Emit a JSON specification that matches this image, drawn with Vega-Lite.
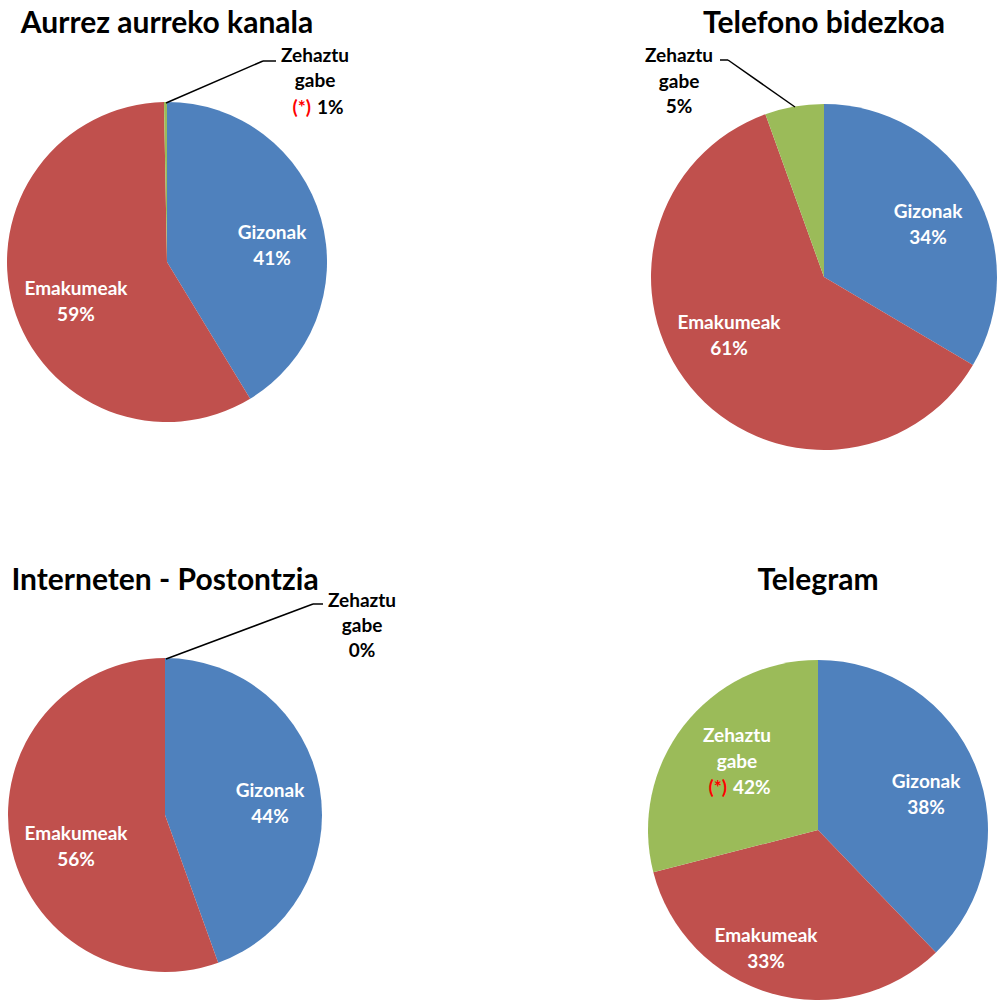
{
  "$schema": "https://vega.github.io/schema/vega-lite/v6.json",
  "padding": {"left": 0, "top": 9, "right": 0, "bottom": 0},
  "background": "white",
  "config": {
    "view": {"stroke": null},
    "text": {"font": "Lato", "fontWeight": "bold", "fontSize": 19, "lineBreak": "\n"},
    "title": {"font": "Lato", "fontWeight": "bold", "fontSize": 30, "color": "black", "anchor": "middle", "frame": "group", "baseline": "bottom"}
  },
  "columns": 2,
  "spacing": {"row": 206, "column": 317},
  "bounds": "flush",
  "align": "each",
  "resolve": {"scale": {"x": "independent", "y": "independent", "theta": "independent"}},
  "concat": [
    {
      "width": 334, "height": 324,
      "title": {"text": "Aurrez aurreko kanala", "offset": -22, "baseline": "bottom"},
      "data": {"values": [
        {"cat": "Gizonak", "n": 1, "v": 41.3, "lab": "Gizonak\n41%"},
        {"cat": "Emakumeak", "n": 2, "v": 58.4, "lab": "Emakumeak\n59%"},
        {"cat": "Zehaztu gabe", "n": 3, "v": 0.3, "lab": "Zehaztu\ngabe", "pct": "1%", "star": "(*)"}
      ]},
      "layer": [
        {"mark": {"type": "arc", "outerRadius": 160},
         "encoding": {
           "theta": {"field": "v", "type": "quantitative", "stack": true},
           "color": {"field": "cat", "type": "nominal", "scale": {"domain": ["Gizonak", "Emakumeak", "Zehaztu gabe"], "range": ["#4F81BD", "#C0504D", "#9BBB59"]}, "legend": null},
           "order": {"field": "n", "type": "quantitative"}}},
        {"mark": {"type": "text", "radius": 107, "dx": 2, "dy": 0, "color": "white", "lineHeight": 26},
         "encoding": {
           "theta": {"field": "v", "type": "quantitative", "stack": true},
           "order": {"field": "n", "type": "quantitative"},
           "text": {"condition": {"test": "datum.n === 1", "field": "lab"}, "value": ""}}},
        {"mark": {"type": "text", "radius": 99, "dx": 4, "dy": -0.6, "color": "white", "lineHeight": 26},
         "encoding": {
           "theta": {"field": "v", "type": "quantitative", "stack": true},
           "order": {"field": "n", "type": "quantitative"},
           "text": {"condition": {"test": "datum.n === 2", "field": "lab"}, "value": ""}}},
        {"data": {"values": [{}]},
         "mark": {"type": "rule", "color": "black", "strokeWidth": 1.5},
         "encoding": {
           "x": {"datum": -1, "type": "quantitative", "scale": {"domain": [-167, 167], "nice": false}, "axis": null},
           "y": {"datum": 159, "type": "quantitative", "scale": {"domain": [-162, 162], "nice": false}, "axis": null},
           "x2": {"datum": 96}, "y2": {"datum": 201}}},
        {"data": {"values": [{}]},
         "mark": {"type": "rule", "color": "black", "strokeWidth": 1.5},
         "encoding": {
           "x": {"datum": 96, "type": "quantitative", "scale": {"domain": [-167, 167], "nice": false}, "axis": null},
           "y": {"datum": 201, "type": "quantitative", "scale": {"domain": [-162, 162], "nice": false}, "axis": null},
           "x2": {"datum": 109}, "y2": {"datum": 201}}},
        {"transform": [{"filter": "datum.n === 3"}],
         "mark": {"type": "text", "color": "black", "lineHeight": 25},
         "encoding": {
           "x": {"datum": 148, "type": "quantitative", "scale": {"domain": [-167, 167], "nice": false}, "axis": null},
           "y": {"datum": 206, "type": "quantitative", "scale": {"domain": [-162, 162], "nice": false}, "axis": null},
           "text": {"field": "lab"}}},
        {"transform": [{"filter": "datum.n === 3"}],
         "mark": {"type": "text", "color": "#FF0000", "align": "right"},
         "encoding": {
           "x": {"datum": 144, "type": "quantitative", "scale": {"domain": [-167, 167], "nice": false}, "axis": null},
           "y": {"datum": 154, "type": "quantitative", "scale": {"domain": [-162, 162], "nice": false}, "axis": null},
           "text": {"field": "star"}}},
        {"transform": [{"filter": "datum.n === 3"}],
         "mark": {"type": "text", "color": "black", "align": "left"},
         "encoding": {
           "x": {"datum": 150, "type": "quantitative", "scale": {"domain": [-167, 167], "nice": false}, "axis": null},
           "y": {"datum": 154, "type": "quantitative", "scale": {"domain": [-162, 162], "nice": false}, "axis": null},
           "text": {"field": "pct"}}}
      ]
    },
    {
      "width": 346, "height": 354,
      "title": {"text": "Telefono bidezkoa", "offset": -22, "baseline": "bottom"},
      "data": {"values": [
        {"cat": "Gizonak", "n": 1, "v": 33.5, "lab": "Gizonak\n34%"},
        {"cat": "Emakumeak", "n": 2, "v": 61.0, "lab": "Emakumeak\n61%"},
        {"cat": "Zehaztu gabe", "n": 3, "v": 5.5, "lab": "Zehaztu\ngabe\n5%"}
      ]},
      "layer": [
        {"mark": {"type": "arc", "outerRadius": 173},
         "encoding": {
           "theta": {"field": "v", "type": "quantitative", "stack": true},
           "color": {"field": "cat", "type": "nominal", "scale": {"domain": ["Gizonak", "Emakumeak", "Zehaztu gabe"], "range": ["#4F81BD", "#C0504D", "#9BBB59"]}, "legend": null},
           "order": {"field": "n", "type": "quantitative"}}},
        {"mark": {"type": "text", "radius": 104, "dx": 13.7, "dy": -13.5, "color": "white", "lineHeight": 26},
         "encoding": {
           "theta": {"field": "v", "type": "quantitative", "stack": true},
           "order": {"field": "n", "type": "quantitative"},
           "text": {"condition": {"test": "datum.n === 1", "field": "lab"}, "value": ""}}},
        {"mark": {"type": "text", "radius": 125, "dx": 1.3, "dy": -33.7, "color": "white", "lineHeight": 26},
         "encoding": {
           "theta": {"field": "v", "type": "quantitative", "stack": true},
           "order": {"field": "n", "type": "quantitative"},
           "text": {"condition": {"test": "datum.n === 2", "field": "lab"}, "value": ""}}},
        {"data": {"values": [{}]},
         "mark": {"type": "rule", "color": "black", "strokeWidth": 1.5},
         "encoding": {
           "x": {"datum": -29, "type": "quantitative", "scale": {"domain": [-173, 173], "nice": false}, "axis": null},
           "y": {"datum": 170, "type": "quantitative", "scale": {"domain": [-177, 177], "nice": false}, "axis": null},
           "x2": {"datum": -96}, "y2": {"datum": 217}}},
        {"data": {"values": [{}]},
         "mark": {"type": "rule", "color": "black", "strokeWidth": 1.5},
         "encoding": {
           "x": {"datum": -96, "type": "quantitative", "scale": {"domain": [-173, 173], "nice": false}, "axis": null},
           "y": {"datum": 217, "type": "quantitative", "scale": {"domain": [-177, 177], "nice": false}, "axis": null},
           "x2": {"datum": -104}, "y2": {"datum": 217}}},
        {"transform": [{"filter": "datum.n === 3"}],
         "mark": {"type": "text", "color": "black", "lineHeight": 25.5},
         "encoding": {
           "x": {"datum": -145, "type": "quantitative", "scale": {"domain": [-173, 173], "nice": false}, "axis": null},
           "y": {"datum": 221, "type": "quantitative", "scale": {"domain": [-177, 177], "nice": false}, "axis": null},
           "text": {"field": "lab"}}}
      ]
    },
    {
      "width": 330, "height": 310,
      "title": {"text": "Interneten - Postontzia", "offset": -34, "baseline": "bottom"},
      "data": {"values": [
        {"cat": "Gizonak", "n": 1, "v": 44.5, "lab": "Gizonak\n44%"},
        {"cat": "Emakumeak", "n": 2, "v": 55.5, "lab": "Emakumeak\n56%"},
        {"cat": "Zehaztu gabe", "n": 3, "v": 0, "lab": "Zehaztu\ngabe\n0%"}
      ]},
      "layer": [
        {"mark": {"type": "arc", "outerRadius": 157},
         "encoding": {
           "theta": {"field": "v", "type": "quantitative", "stack": true},
           "color": {"field": "cat", "type": "nominal", "scale": {"domain": ["Gizonak", "Emakumeak", "Zehaztu gabe"], "range": ["#4F81BD", "#C0504D", "#9BBB59"]}, "legend": null},
           "order": {"field": "n", "type": "quantitative"}}},
        {"mark": {"type": "text", "radius": 106, "dx": 0.6, "dy": -5.8, "color": "white", "lineHeight": 26},
         "encoding": {
           "theta": {"field": "v", "type": "quantitative", "stack": true},
           "order": {"field": "n", "type": "quantitative"},
           "text": {"condition": {"test": "datum.n === 1", "field": "lab"}, "value": ""}}},
        {"mark": {"type": "text", "radius": 94, "dx": 3.6, "dy": 2.8, "color": "white", "lineHeight": 26},
         "encoding": {
           "theta": {"field": "v", "type": "quantitative", "stack": true},
           "order": {"field": "n", "type": "quantitative"},
           "text": {"condition": {"test": "datum.n === 2", "field": "lab"}, "value": ""}}},
        {"data": {"values": [{}]},
         "mark": {"type": "rule", "color": "black", "strokeWidth": 1.5},
         "encoding": {
           "x": {"datum": 1, "type": "quantitative", "scale": {"domain": [-165, 165], "nice": false}, "axis": null},
           "y": {"datum": 156, "type": "quantitative", "scale": {"domain": [-155, 155], "nice": false}, "axis": null},
           "x2": {"datum": 148}, "y2": {"datum": 211}}},
        {"data": {"values": [{}]},
         "mark": {"type": "rule", "color": "black", "strokeWidth": 1.5},
         "encoding": {
           "x": {"datum": 148, "type": "quantitative", "scale": {"domain": [-165, 165], "nice": false}, "axis": null},
           "y": {"datum": 211, "type": "quantitative", "scale": {"domain": [-155, 155], "nice": false}, "axis": null},
           "x2": {"datum": 158}, "y2": {"datum": 211}}},
        {"transform": [{"filter": "datum.n === 3"}],
         "mark": {"type": "text", "color": "black", "lineHeight": 25},
         "encoding": {
           "x": {"datum": 197, "type": "quantitative", "scale": {"domain": [-165, 165], "nice": false}, "axis": null},
           "y": {"datum": 214, "type": "quantitative", "scale": {"domain": [-155, 155], "nice": false}, "axis": null},
           "text": {"field": "lab"}}}
      ]
    },
    {
      "width": 334, "height": 340,
      "title": {"text": "Telegram", "offset": 34, "baseline": "bottom"},
      "data": {"values": [
        {"cat": "Gizonak", "n": 1, "v": 37.8, "lab": "Gizonak\n38%"},
        {"cat": "Emakumeak", "n": 2, "v": 33.2, "lab": "Emakumeak\n33%"},
        {"cat": "Zehaztu gabe", "n": 3, "v": 29.0, "lab": "Zehaztu\ngabe", "pct": "42%", "star": "(*)"}
      ]},
      "layer": [
        {"mark": {"type": "arc", "outerRadius": 170},
         "encoding": {
           "theta": {"field": "v", "type": "quantitative", "stack": true},
           "color": {"field": "cat", "type": "nominal", "scale": {"domain": ["Gizonak", "Emakumeak", "Zehaztu gabe"], "range": ["#4F81BD", "#C0504D", "#9BBB59"]}, "legend": null},
           "order": {"field": "n", "type": "quantitative"}}},
        {"mark": {"type": "text", "radius": 114, "dx": 2.3, "dy": -5.3, "color": "white", "lineHeight": 26},
         "encoding": {
           "theta": {"field": "v", "type": "quantitative", "stack": true},
           "order": {"field": "n", "type": "quantitative"},
           "text": {"condition": {"test": "datum.n === 1", "field": "lab"}, "value": ""}}},
        {"mark": {"type": "text", "radius": 128, "dx": -17.1, "dy": -17.2, "color": "white", "lineHeight": 26},
         "encoding": {
           "theta": {"field": "v", "type": "quantitative", "stack": true},
           "order": {"field": "n", "type": "quantitative"},
           "text": {"condition": {"test": "datum.n === 2", "field": "lab"}, "value": ""}}},
        {"mark": {"type": "text", "radius": 107, "dx": 3.5, "dy": -28.4, "color": "white", "lineHeight": 26},
         "encoding": {
           "theta": {"field": "v", "type": "quantitative", "stack": true},
           "order": {"field": "n", "type": "quantitative"},
           "text": {"condition": {"test": "datum.n === 3", "field": "lab"}, "value": ""}}},
        {"mark": {"type": "text", "radius": 107, "dx": -6.5, "dy": 23.1, "color": "#FF0000", "align": "right"},
         "encoding": {
           "theta": {"field": "v", "type": "quantitative", "stack": true},
           "order": {"field": "n", "type": "quantitative"},
           "text": {"condition": {"test": "datum.n === 3", "field": "star"}, "value": ""}}},
        {"mark": {"type": "text", "radius": 107, "dx": -0.5, "dy": 23.1, "color": "white", "align": "left"},
         "encoding": {
           "theta": {"field": "v", "type": "quantitative", "stack": true},
           "order": {"field": "n", "type": "quantitative"},
           "text": {"condition": {"test": "datum.n === 3", "field": "pct"}, "value": ""}}}
      ]
    }
  ]
}
